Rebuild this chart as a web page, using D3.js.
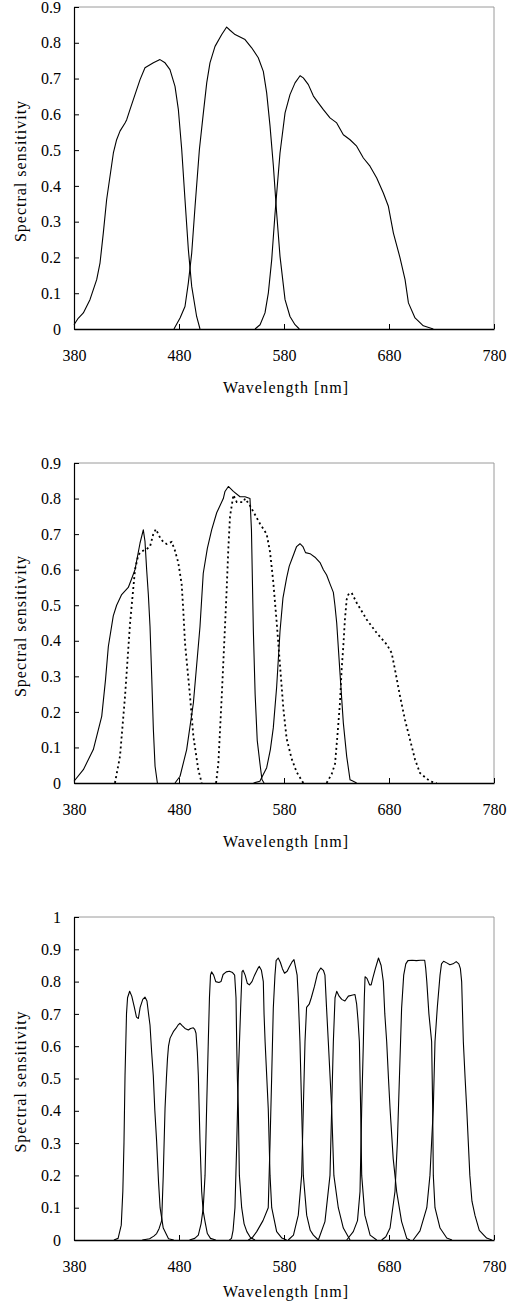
<!DOCTYPE html>
<html>
<head>
<meta charset="utf-8">
<script src="https://cdn.jsdelivr.net/npm/d3@7"></script>
<style>
  body { margin: 0; background: #fff; }
  svg { display: block; }
  text { font-family: "Liberation Serif", "Times New Roman", serif; }
</style>
</head>
<body>
<div id="chart"></div>
<script>
// Axis ticks
const wavelengthTicks = [380, 480, 580, 680, 780];
const sensTicksTo09 = [0, 0.1, 0.2, 0.3, 0.4, 0.5, 0.6, 0.7, 0.8, 0.9];
const sensTicksTo1 = [0, 0.1, 0.2, 0.3, 0.4, 0.5, 0.6, 0.7, 0.8, 0.9, 1];

// Panel 1: three broad channels, [wavelength nm, sensitivity]
const p1Blue = [[380,0.012],[384,0.03],[388.9,0.045],[395.2,0.082],[401.6,0.138],[404.8,0.185],[407.9,0.268],[411.1,0.362],[414.3,0.427],[417.5,0.492],[420.6,0.529],[423.8,0.553],[428.6,0.576],[430.2,0.585],[433.3,0.613],[436.5,0.641],[442.9,0.697],[447.6,0.73],[455.6,0.744],[461.9,0.753],[466.7,0.744],[471.4,0.725],[476.2,0.678],[479.4,0.613],[482.6,0.501],[485.7,0.362],[488.9,0.222],[492.1,0.119],[496.8,0.035],[500,0]];
const p1Green = [[475.2,0],[481,0.031],[485.7,0.063],[488.9,0.129],[492.1,0.212],[495.3,0.343],[499.4,0.501],[503.2,0.604],[506.4,0.688],[509.5,0.744],[514.3,0.79],[520.7,0.823],[525.4,0.844],[528.6,0.835],[533.4,0.823],[542.9,0.809],[549.2,0.786],[555.5,0.758],[560.3,0.72],[563.5,0.66],[566.7,0.567],[569.9,0.455],[573,0.324],[576.2,0.203],[581,0.082],[585.7,0.035],[590.5,0.012],[594.6,0]];
const p1Red = [[552.4,0],[557.2,0.012],[561.9,0.045],[565.1,0.101],[568.3,0.194],[571.5,0.324],[576.2,0.492],[581,0.604],[585.7,0.655],[590.5,0.688],[595.3,0.708],[598.4,0.702],[603.2,0.683],[608,0.651],[612.7,0.632],[617.5,0.613],[623.8,0.59],[630.2,0.576],[636.5,0.543],[642.9,0.529],[649.2,0.511],[655.6,0.478],[661.9,0.455],[668.3,0.422],[674.6,0.38],[679.4,0.343],[684.2,0.268],[690.5,0.199],[695.3,0.138],[698.5,0.073],[704.8,0.031],[712.7,0.009],[722.2,0]];

// Panel 2: solid and dotted channel pairs
const p2BlueSolid = [[380,0.005],[388.9,0.0375],[398.4,0.094],[406.4,0.1875],[410,0.29],[412.7,0.384],[417.4,0.47],[420.6,0.5],[425.4,0.53],[431.7,0.55],[435,0.575],[438.1,0.6],[442.9,0.675],[446,0.712],[447.6,0.68],[449.2,0.6],[450.8,0.53],[452.4,0.44],[454,0.3],[455.6,0.15],[457.2,0.047],[459.4,0]];
const p2BlueDotted = [[419,0],[423.8,0.075],[428.6,0.244],[433.4,0.45],[438.1,0.6],[441.3,0.642],[445,0.652],[449.2,0.658],[452.4,0.665],[455.5,0.7],[458,0.714],[462,0.69],[465,0.678],[468.3,0.672],[473,0.678],[476,0.655],[479.3,0.62],[482.5,0.56],[484,0.49],[485.7,0.394],[490.5,0.244],[493.7,0.131],[498.4,0.0375],[501.6,0]];
const p2GreenSolid = [[476.2,0],[481,0.019],[487.3,0.094],[493.7,0.225],[500,0.44],[503.1,0.59],[507,0.66],[511.1,0.712],[515.9,0.76],[522.2,0.8],[523.8,0.82],[527,0.834],[531.8,0.82],[538.1,0.805],[542.9,0.805],[547.6,0.8],[549,0.712],[550.8,0.43],[552.5,0.25],[554.5,0.12],[557,0.057],[559,0.01],[561,0]];
const p2GreenDotted = [[515.3,0],[517.5,0.056],[520.7,0.244],[523.8,0.44],[525.4,0.544],[527,0.66],[528.6,0.75],[531.8,0.81],[535,0.79],[541.3,0.79],[543,0.8],[547.6,0.78],[557,0.73],[563.5,0.7],[566.7,0.65],[569.8,0.565],[573,0.453],[576.2,0.331],[579.4,0.209],[582.5,0.125],[587.3,0.068],[592,0.031],[598.4,0]];
const p2RedSolid = [[551,0],[557,0.005],[563.5,0.043],[567,0.094],[569.8,0.155],[573,0.27],[576.2,0.427],[579,0.52],[582.5,0.577],[585,0.61],[588.8,0.64],[592,0.665],[595.2,0.673],[598,0.665],[600.5,0.648],[604.8,0.645],[609.5,0.635],[614.3,0.62],[617.5,0.6],[620.6,0.585],[623.8,0.56],[627,0.536],[628.5,0.5],[630.2,0.45],[633.3,0.31],[636.5,0.169],[639.7,0.075],[642.9,0.009],[645,0.006],[649.2,0]];
const p2RedDotted = [[620.6,0],[625.4,0.025],[628.6,0.054],[630.8,0.131],[633.3,0.225],[634.9,0.319],[636.5,0.385],[638,0.46],[639.7,0.516],[641.3,0.53],[644.4,0.535],[649.2,0.507],[658.7,0.46],[668.3,0.422],[677.8,0.39],[682.5,0.366],[685.7,0.319],[690.5,0.244],[695.2,0.178],[700,0.122],[704.8,0.066],[709.5,0.028],[719,0.005],[725.4,0]];

// Panel 3: ten narrow-band filters
const p3Band1 = [[418,0],[422,0.005],[425,0.046],[426.5,0.15],[427.6,0.3],[428.6,0.51],[430,0.7],[431,0.75],[433,0.77],[435,0.755],[437.5,0.72],[439.5,0.69],[441.3,0.686],[443,0.72],[445.5,0.745],[447.6,0.752],[449.5,0.74],[451,0.7],[452.4,0.665],[454,0.58],[455.5,0.51],[457,0.4],[458.7,0.305],[460.5,0.18],[462,0.1],[465,0.037],[470,0.004],[475,0]];
const p3Band2 = [[445,0],[452,0.004],[456,0.012],[458.7,0.02],[461,0.035],[463.5,0.06],[465,0.2],[466.7,0.407],[468,0.5],[469,0.56],[470,0.6],[471.5,0.625],[474.6,0.645],[477,0.655],[479,0.665],[481,0.671],[483,0.664],[485.7,0.655],[488.9,0.65],[491,0.655],[493.6,0.657],[495,0.652],[496.2,0.64],[497.5,0.58],[498.4,0.51],[500,0.305],[501.6,0.15],[503,0.09],[504.8,0.057],[507,0.02],[510,0.005],[515,0]];
const p3Band3 = [[490,0],[495,0.005],[498.4,0.015],[501,0.05],[503.1,0.1],[504.8,0.2],[506.3,0.407],[507.9,0.614],[509,0.75],[510,0.82],[511,0.83],[513,0.82],[515,0.8],[518,0.797],[520,0.8],[522,0.822],[525,0.83],[528,0.832],[531,0.828],[533,0.82],[534.3,0.75],[535,0.6],[535.6,0.5],[536.5,0.407],[537.5,0.2],[539.7,0.1],[542,0.05],[544.6,0.026],[548,0.008],[552.4,0]];
const p3Band4 = [[528,0],[530,0.005],[531.5,0.03],[533.3,0.1],[535,0.3],[536.5,0.51],[538.7,0.717],[540,0.83],[541,0.835],[543,0.82],[545,0.795],[547,0.79],[549.5,0.8],[552,0.82],[555,0.84],[556.5,0.847],[558.5,0.835],[560.3,0.8],[561,0.7],[562,0.614],[565,0.407],[566.7,0.2],[568.3,0.1],[573,0.026],[578,0.006],[582.5,0]];
const p3Band5 = [[546,0],[550,0.008],[554,0.026],[560,0.06],[565,0.1],[566.7,0.3],[568.3,0.51],[569.8,0.717],[571.4,0.82],[572.5,0.865],[574.5,0.873],[576.5,0.86],[578.5,0.84],[580.5,0.826],[583,0.832],[585,0.845],[587.5,0.86],[589.5,0.868],[591,0.845],[592.5,0.82],[593.6,0.75],[595.2,0.614],[596.8,0.407],[598.4,0.2],[601.6,0.077],[605,0.03],[608,0.015],[612.7,0]];
const p3Band6 = [[584,0],[589,0.015],[593.6,0.077],[596.8,0.2],[598.4,0.407],[600,0.614],[601.5,0.72],[604,0.73],[606,0.75],[609,0.785],[612,0.826],[615,0.842],[617.5,0.835],[619,0.82],[620.5,0.72],[622.2,0.614],[625.4,0.407],[627.5,0.2],[631.7,0.1],[636.5,0.037],[642.9,0]];
const p3Band7 = [[612.7,0],[619,0.057],[623.8,0.2],[625.4,0.407],[627,0.614],[628.6,0.75],[630.2,0.77],[632.5,0.755],[635,0.745],[638,0.74],[641.3,0.755],[644.5,0.758],[647.6,0.76],[649.2,0.73],[650.5,0.68],[651.8,0.614],[653,0.407],[654,0.2],[657,0.077],[662,0.015],[668.3,0]];
const p3Band8 = [[639.7,0],[646,0.026],[650,0.06],[652.4,0.15],[654,0.407],[655.6,0.614],[656.5,0.75],[657.2,0.815],[659,0.81],[661.5,0.79],[663,0.79],[664.5,0.81],[667,0.84],[670,0.873],[672.5,0.85],[674.6,0.8],[676,0.7],[677.8,0.614],[679.5,0.5],[681,0.407],[684,0.252],[687.3,0.15],[692,0.057],[696.9,0.005],[700,0]];
const p3Band9 = [[673,0],[677,0.01],[681,0.037],[685.7,0.15],[688,0.305],[690,0.51],[692,0.717],[694,0.82],[696,0.855],[698,0.865],[702,0.866],[706,0.865],[710,0.866],[714,0.866],[715,0.84],[716,0.8],[718,0.7],[720.6,0.614],[721.6,0.408],[722.2,0.2],[723.8,0.1],[728.6,0.037],[735,0.006],[740,0]];
const p3Band10 = [[703,0],[709.5,0.028],[716,0.1],[719,0.2],[722.2,0.408],[723.8,0.614],[726,0.72],[728.6,0.82],[730,0.855],[732,0.863],[735,0.858],[738,0.852],[741,0.855],[744,0.862],[746.5,0.855],[748,0.84],[749.2,0.8],[750.8,0.614],[752.5,0.5],[754,0.408],[757,0.2],[759,0.12],[761.9,0.076],[766,0.03],[773,0.006],[778,0]];

let width = 528, height = 1310;

let svg = d3.select('#chart')
            .append('svg')
            .attr('width', width)
            .attr('height', height);

svg.append('rect')
    .attr('width', width)
    .attr('height', height)
    .attr('fill', '#fff');

// Draw one panel of the figure
function drawPanel(top, bottom, yMax, yTicks, solidSeries, dottedSeries, titleGap) {
    let left = 74, right = 494;

    let xScale = d3.scaleLinear()
                   .domain([380, 780])
                   .range([left, right]);
    let yScale = d3.scaleLinear()
                   .domain([0, yMax])
                   .range([bottom, top]);

    let g = svg.append('g');

    // Top and right border (grey)
    g.append('line')
        .attr('x1', left).attr('x2', right)
        .attr('y1', top).attr('y2', top)
        .attr('stroke', '#9a9a9a')
        .attr('stroke-width', 1);
    g.append('line')
        .attr('x1', right).attr('x2', right)
        .attr('y1', top).attr('y2', bottom)
        .attr('stroke', '#9a9a9a')
        .attr('stroke-width', 1);

    // Curves
    let line = d3.line()
                 .x(d => xScale(d[0]))
                 .y(d => yScale(d[1]));

    solidSeries.forEach(s => {
        g.append('path')
            .datum(s)
            .attr('fill', 'none')
            .attr('stroke', '#000')
            .attr('stroke-width', 1.1)
            .attr('stroke-linejoin', 'round')
            .attr('d', line);
    });

    dottedSeries.forEach(s => {
        g.append('path')
            .datum(s)
            .attr('fill', 'none')
            .attr('stroke', '#000')
            .attr('stroke-width', 1.8)
            .attr('stroke-dasharray', '2,3')
            .attr('d', line);
    });

    // Axes with inward ticks
    let xAxis = g.append('g')
                 .attr('transform', `translate(0,${bottom})`)
                 .call(d3.axisBottom(xScale)
                         .tickValues(wavelengthTicks)
                         .tickSize(-5)
                         .tickSizeOuter(0)
                         .tickPadding(21)
                         .tickFormat(d => d));

    let yAxis = g.append('g')
                 .attr('transform', `translate(${left},0)`)
                 .call(d3.axisLeft(yScale)
                         .tickValues(yTicks)
                         .tickSize(-5)
                         .tickSizeOuter(0)
                         .tickPadding(13)
                         .tickFormat(d => d));

    xAxis.select('.domain').attr('stroke', '#000').attr('stroke-width', 1.6);
    yAxis.select('.domain').attr('stroke', '#000').attr('stroke-width', 1.2);
    g.selectAll('.tick line').attr('stroke', '#000');
    g.selectAll('.tick text')
        .attr('fill', '#000')
        .style('font-size', '16px')
        .style('font-family', '"Liberation Serif", "Times New Roman", serif');

    // Axis titles
    g.append('text')
        .attr('x', (left + right) / 2 + 2)
        .attr('y', bottom + titleGap)
        .attr('text-anchor', 'middle')
        .style('font-size', '16px')
        .style('letter-spacing', '1px')
        .text('Wavelength [nm]');

    g.append('text')
        .attr('transform', `translate(26,${(top + bottom) / 2 + 3}) rotate(-90)`)
        .attr('text-anchor', 'middle')
        .style('font-size', '16px')
        .style('letter-spacing', '1px')
        .text('Spectral sensitivity');
}

drawPanel(7, 329, 0.9, sensTicksTo09, [p1Blue, p1Green, p1Red], [], 64);

drawPanel(463, 783, 0.9, sensTicksTo09,
    [p2BlueSolid, p2GreenSolid, p2RedSolid],
    [p2BlueDotted, p2GreenDotted, p2RedDotted], 64);

drawPanel(917, 1240, 1, sensTicksTo1,
    [p3Band1, p3Band2, p3Band3, p3Band4, p3Band5, p3Band6, p3Band7, p3Band8, p3Band9, p3Band10],
    [], 57);
</script>
</body>
</html>
